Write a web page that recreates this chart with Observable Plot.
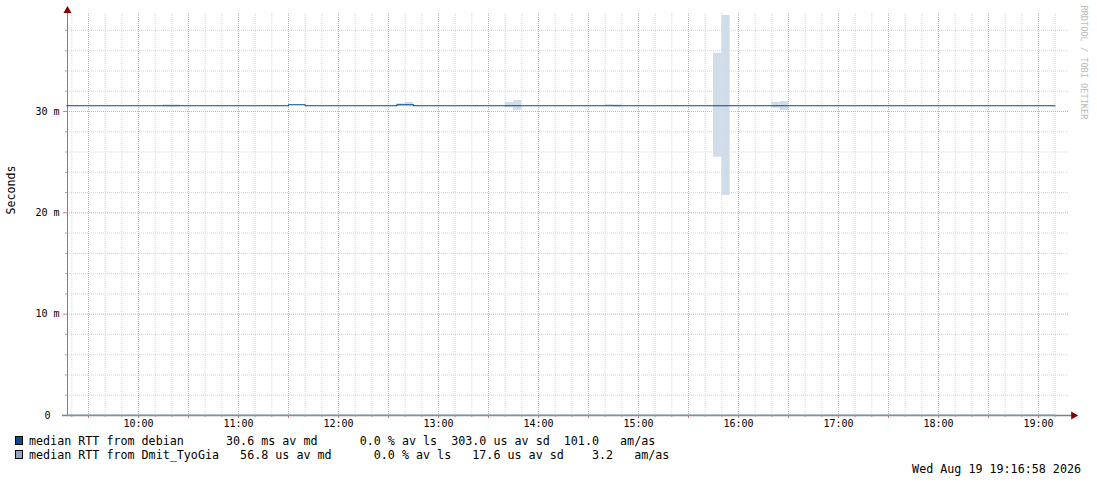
<!DOCTYPE html>
<html>
<head>
<meta charset="utf-8">
<script src="https://cdn.jsdelivr.net/npm/d3@7"></script>
<script src="https://cdn.jsdelivr.net/npm/@observablehq/plot@0.6"></script>
<style>
  body { margin: 0; background: #fff; }
  #wrap { position: relative; width: 1097px; height: 483px; }
  .mono { font-family: "DejaVu Sans Mono", monospace; font-size: 11.7px; color: #000; white-space: pre; }
  .row { position: absolute; left: 29px; line-height: 14px; }
  .sw { position: absolute; left: 15px; width: 6px; height: 7px; border: 1px solid #000; }
</style>
</head>
<body>
<div id="wrap">
  <div id="plot-region"></div>
  <div id="legend"></div>
</div>
<script>
// time in "HH:MM", values in ms
const xStart = 557.4;     // 09:17:24 - left edge of the graph
const xEnd = 1158;        // right edge of the grid
const yTop = 39.67;

const medianTimes = ["09:17", "11:30", "11:40", "12:35", "12:45", "19:10"];
const medianDebian = [30.56, 30.66, 30.56, 30.66, 30.56, 30.56];

const dmitTimes = ["09:17", "19:10"];
const medianDmit = [0.0568, 0.0568];

const smokeTimes = ["10:15", "10:20", "12:35", "12:40", "13:40", "13:45",
                    "14:40", "14:45", "15:45", "15:50", "16:20", "16:25"];
const smokeLow  = [30.43, 30.43, 30.47, 30.47, 30.37, 30.10, 30.56, 30.43, 25.49, 21.71, 30.33, 30.10];
const smokeHigh = [30.66, 30.66, 30.76, 30.89, 30.89, 31.09, 30.69, 30.66, 35.75, 39.47, 30.89, 30.99];

const hourTicks = ["10:00", "11:00", "12:00", "13:00", "14:00", "15:00", "16:00", "17:00", "18:00", "19:00"];
const yLabels = [0, 10, 20, 30];

const legendRows = [
  { color: "#0c4a88", text: "median RTT from debian      30.6 ms av md      0.0 % av ls  303.0 us av sd  101.0   am/as" },
  { color: "#8ea9bf", text: "median RTT from Dmit_TyoGia   56.8 us av md      0.0 % av ls   17.6 us av sd    3.2   am/as" }
];
const stamp = "Wed Aug 19 19:16:58 2026";

const STEP = 5; // rrd step, minutes

function hm(s) {
  let [h, m] = s.split(":").map(Number);
  return h * 60 + m;
}
function fmtHM(m) {
  return String(Math.floor(m / 60)).padStart(2, "0") + ":" + String(m % 60).padStart(2, "0");
}

function plotGraph() {
  let debian = medianTimes.map((t, i) => ({ t: hm(t), v: medianDebian[i] }));
  let dmit = dmitTimes.map((t, i) => ({ t: hm(t), v: medianDmit[i] }));
  let smoke = smokeTimes.map((t, i) => ({ t1: hm(t), t2: hm(t) + STEP, lo: smokeLow[i], hi: smokeHigh[i] }));

  let majorX = d3.range(570, xEnd, 30);
  let minorX = d3.range(560, xEnd, 10).filter(m => m % 30 !== 0);
  let majorY = [10, 20, 30];
  let minorY = d3.range(2, yTop, 2).filter(v => v % 10 !== 0);

  let graph = Plot.plot({
    width: 1097,
    height: 432,
    marginLeft: 67,
    marginRight: 29,
    marginTop: 13,
    marginBottom: 17,
    style: { fontFamily: "DejaVu Sans Mono", fontSize: "10px", background: "#fff", overflow: "visible" },
    x: { domain: [xStart, xEnd] },
    y: { domain: [0, yTop] },
    marks: [
      Plot.ruleX(minorX, { stroke: "#d6d6d6", strokeDasharray: "1,1" }),
      Plot.ruleY(minorY, { stroke: "#d6d6d6", strokeDasharray: "1,1" }),
      Plot.ruleX(majorX, { stroke: "#e2a8a8", strokeDasharray: "1,1" }),
      Plot.ruleY(majorY, { stroke: "#e2a8a8", strokeDasharray: "1,1" }),
      Plot.axisY(minorY, { tickSize: 2, text: null, stroke: "#aaa" }),
      Plot.axisY(majorY, { tickSize: 4, text: null, stroke: "#d08080" }),
      Plot.axisY(yLabels, { tickSize: 0, tickPadding: 20, textAnchor: "middle", fill: "#000",
        tickFormat: d => d === 0 ? "0" : d + " m" }),
      Plot.axisX(minorX, { tickSize: 2, text: null, stroke: "#aaa" }),
      Plot.axisX(majorX, { tickSize: 3, text: null, stroke: "#d08080" }),
      Plot.axisX(hourTicks.map(hm), { tickSize: 0, tickPadding: 4, fill: "#000", tickFormat: fmtHM, label: null }),
      Plot.rectY(smoke, { x1: "t1", x2: "t2", y1: "lo", y2: "hi", fill: "#d0dce8" }),
      Plot.ruleX([xStart], { y1: 0, y2: yTop, stroke: "#808080" }),
      Plot.ruleY([0], { x1: xStart - 3, x2: xEnd + 3, stroke: "#808080", strokeWidth: 1.5 }),
      Plot.line(dmit, { x: "t", y: "v", curve: "step-after", stroke: "#8ea9bf", strokeWidth: 1 }),
      Plot.line(debian, { x: "t", y: "v", curve: "step-after", stroke: "#0a4580", strokeWidth: 1.1 }),
      Plot.dot([0], { x: xStart, y: yTop + 0.28, symbol: "triangle", r: 3, fill: "#800000", stroke: null }),
      Plot.dot([0], { x: xEnd + 3, y: 0, symbol: "triangle", r: 3, rotate: 90, fill: "#800000", stroke: null }),
      Plot.text(["Seconds"], { frameAnchor: "left", dx: -56, rotate: -90, fontSize: 11.6, fill: "#000" }),
      Plot.text(["RRDTOOL / TOBI OETIKER"], { frameAnchor: "top-right", dx: 19, dy: -8, rotate: 90,
        textAnchor: "start", fontSize: 8.6, fill: "#bcbcbc" })
    ]
  });

  let region = document.getElementById("plot-region");
  region.innerHTML = "";
  region.append(graph);

  let legend = document.getElementById("legend");
  legendRows.forEach((r, i) => {
    let sw = document.createElement("div");
    sw.className = "sw";
    sw.style.top = (436 + i * 14) + "px";
    sw.style.background = r.color;
    legend.append(sw);
    let row = document.createElement("div");
    row.className = "mono row";
    row.style.top = (434 + i * 14) + "px";
    row.textContent = r.text;
    legend.append(row);
  });
  let st = document.createElement("div");
  st.className = "mono row";
  st.style.left = "auto";
  st.style.right = "16px";
  st.style.top = "462px";
  st.textContent = stamp;
  legend.append(st);
}

plotGraph();
</script>
</body>
</html>
